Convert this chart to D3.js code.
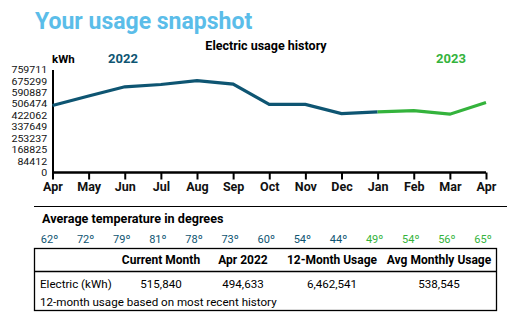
<!DOCTYPE html>
<html>
<head>
<meta charset="utf-8">
<title>Your usage snapshot</title>
<script src="https://d3js.org/d3.v7.min.js"></script>
<style>
  body { margin: 0; background: #fff; }
  svg text { font-family: Roboto, "Liberation Sans", Arial, sans-serif; }
</style>
</head>
<body>
<svg width="507" height="333"></svg>
<script>
// monthly usage, Apr 2022 .. Apr 2023
var months = ["Apr", "May", "Jun", "Jul", "Aug", "Sep", "Oct", "Nov", "Dec", "Jan", "Feb", "Mar", "Apr"];
var usage = [494633, 564000, 632000, 649000, 677000, 652000, 502000, 502000, 435000, 447000, 457000, 430000, 515840];
var temps = [62, 72, 79, 81, 78, 73, 60, 54, 44, 49, 54, 56, 65];
var yTicks = [0, 84412, 168825, 253237, 337649, 422062, 506474, 590887, 675299, 759711];
var split = 9; // first month of 2023 (Jan)

var headers = ["Current Month", "Apr 2022", "12-Month Usage", "Avg Monthly Usage"];
var rowLabel = "Electric (kWh)";
var rowValues = ["515,840", "494,633", "6,462,541", "538,545"];

var teal = "#0e5572", green = "#34b33c", blue = "#5bbde9";

var svg = d3.select("svg");

var x = d3.scaleLinear().domain([0, 12]).range([52.5, 486]);
var y = d3.scaleLinear().domain([0, 759711]).range([172.5, 69.5]);

svg.append("text")
    .attr("x", 35).attr("y", 29)
    .attr("fill", blue)
    .attr("font-size", 23).attr("font-weight", "bold")
    .text("Your usage snapshot");

svg.append("text")
    .attr("x", 266).attr("y", 50)
    .attr("text-anchor", "middle")
    .attr("font-size", 12.5).attr("font-weight", "bold")
    .text("Electric usage history");

svg.append("text")
    .attr("x", 52).attr("y", 63)
    .attr("font-size", 11.5).attr("font-weight", "bold")
    .text("kWh");
svg.append("text")
    .attr("x", 123).attr("y", 63).attr("text-anchor", "middle")
    .attr("fill", teal)
    .attr("font-size", 13).attr("font-weight", "bold")
    .text("2022");
svg.append("text")
    .attr("x", 451).attr("y", 63).attr("text-anchor", "middle")
    .attr("fill", green)
    .attr("font-size", 13).attr("font-weight", "bold")
    .text("2023");

// y axis
var ya = svg.append("g")
    .attr("transform", "translate(" + x(0) + ",0)")
    .call(d3.axisLeft(y).tickValues(yTicks).tickSize(0).tickPadding(5).tickFormat(function(d) { return d; }));
ya.select(".domain").attr("stroke", "#000").attr("stroke-width", 2);
ya.selectAll("text")
    .attr("font-family", "'Liberation Sans', Arial, sans-serif")
    .attr("font-size", 9.8).attr("fill", "#111")
    .attr("transform", "scale(1.08,1)");

// x axis
var xa = svg.append("g")
    .attr("transform", "translate(0," + y(0) + ")")
    .call(d3.axisBottom(x).tickValues(d3.range(13)).tickSize(7).tickPadding(3)
        .tickFormat(function(i) { return months[i]; }));
xa.select(".domain").attr("stroke", "#000").attr("stroke-width", 2.5).attr("d", "M" + x(0) + ",0H" + x(12));
xa.selectAll(".tick line").attr("stroke", "#000").attr("stroke-width", 2);
xa.selectAll("text")
    .attr("font-family", "Roboto, sans-serif")
    .attr("font-size", 12.5).attr("font-weight", "bold").attr("fill", "#111");

var line = d3.line()
    .x(function(d) { return x(d.i); })
    .y(function(d) { return y(d.v); });

var pts = usage.map(function(v, i) { return { i: i, v: v }; });

svg.append("path")
    .datum(pts.slice(0, split + 1))
    .attr("fill", "none").attr("stroke", teal).attr("stroke-width", 3.2)
    .attr("d", line);
svg.append("path")
    .datum(pts.slice(split))
    .attr("fill", "none").attr("stroke", green).attr("stroke-width", 3.2)
    .attr("d", line);

// temperature row
svg.append("line")
    .attr("x1", 34).attr("x2", 507).attr("y1", 206.5).attr("y2", 206.5)
    .attr("stroke", "#000").attr("stroke-width", 1.2);

svg.append("text")
    .attr("x", 42).attr("y", 223)
    .attr("font-size", 12.6).attr("font-weight", "bold")
    .text("Average temperature in degrees");

svg.append("g").selectAll("text")
    .data(temps)
    .join("text")
    .attr("x", function(d, i) { return x(i) - 3; })
    .attr("y", 243)
    .attr("text-anchor", "middle")
    .attr("font-size", 11)
    .attr("fill", function(d, i) { return i >= split ? green : teal; })
    .text(function(d) { return d + "º"; });

// summary table
var cols = [161, 243, 332, 439];

svg.append("rect")
    .attr("x", 34.5).attr("y", 248.5).attr("width", 462).attr("height", 62)
    .attr("fill", "none").attr("stroke", "#000").attr("stroke-width", 1.3);
svg.append("line")
    .attr("x1", 34.5).attr("x2", 496.5).attr("y1", 271.5).attr("y2", 271.5)
    .attr("stroke", "#000").attr("stroke-width", 1.3);

svg.append("g").selectAll("text")
    .data(headers)
    .join("text")
    .attr("x", function(d, i) { return cols[i]; })
    .attr("y", 264)
    .attr("text-anchor", "middle")
    .attr("font-size", 12).attr("font-weight", "bold")
    .text(function(d) { return d; });

svg.append("text")
    .attr("x", 40).attr("y", 288)
    .attr("font-size", 11.6)
    .text(rowLabel);

svg.append("g").selectAll("text")
    .data(rowValues)
    .join("text")
    .attr("x", function(d, i) { return cols[i]; })
    .attr("y", 288)
    .attr("text-anchor", "middle")
    .attr("font-size", 11.6)
    .text(function(d) { return d; });

svg.append("text")
    .attr("x", 40).attr("y", 306)
    .attr("font-size", 11.6)
    .text("12-month usage based on most recent history");
</script>
</body>
</html>
